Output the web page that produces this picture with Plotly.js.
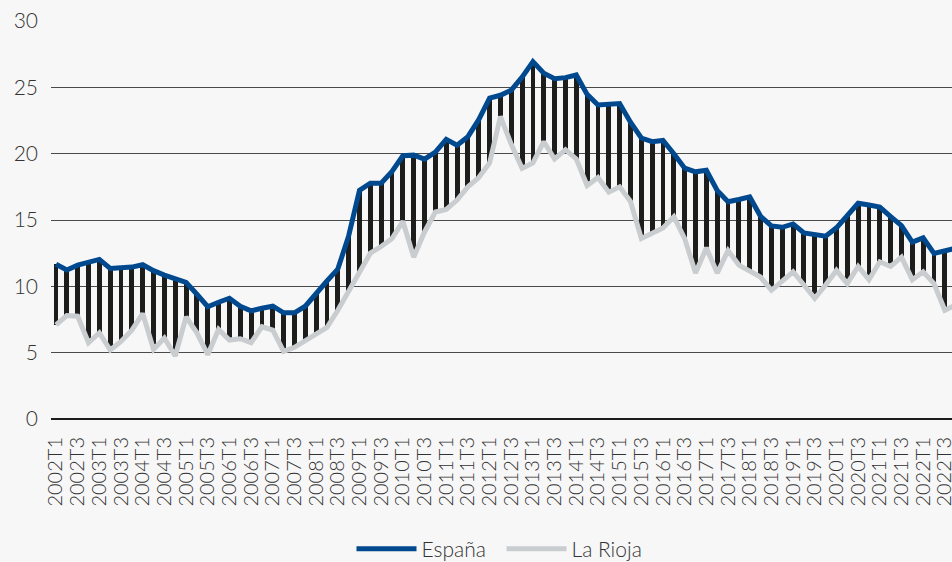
<!DOCTYPE html>
<html>
<head>
<meta charset="utf-8">
<script src="https://cdn.plot.ly/plotly-3.0.1.min.js"></script>
<style>
html,body{margin:0;padding:0;background:#f7f7f7;overflow:hidden;}
#chart{width:952px;height:562px;}
</style>
</head>
<body>
<div id="chart"></div>
<script>
// Quarters 2002T1 .. 2022T4
const years = [];
for (let y = 2002; y <= 2022; y++) years.push(y);
const quarters = [];
years.forEach(y => { ['T1','T2','T3','T4'].forEach(q => quarters.push(y + q)); });

const espana = [
  11.66, 11.23, 11.60, 11.80,
  12.03, 11.35, 11.40, 11.45,
  11.63, 11.18, 10.85, 10.60,
  10.30, 9.40, 8.46, 8.80,
  9.10, 8.50, 8.15, 8.35,
  8.50, 8.00, 8.00, 8.50,
  9.50, 10.40, 11.30, 13.80,
  17.24, 17.77, 17.77, 18.66,
  19.84, 19.89, 19.59, 20.11,
  21.08, 20.64, 21.28, 22.56,
  24.19, 24.40, 24.79, 25.77,
  26.94, 26.06, 25.65, 25.73,
  25.93, 24.47, 23.67, 23.70,
  23.78, 22.37, 21.18, 20.90,
  21.00, 20.00, 18.91, 18.63,
  18.75, 17.22, 16.38, 16.55,
  16.74, 15.28, 14.55, 14.45,
  14.70, 14.02, 13.92, 13.78,
  14.41, 15.33, 16.26, 16.13,
  15.98, 15.26, 14.57, 13.33,
  13.65, 12.48, 12.67, 12.87
];

const laRioja = [
  7.10, 7.80, 7.75, 5.75,
  6.50, 5.20, 5.85, 6.70,
  7.95, 5.25, 6.10, 4.75,
  7.70, 6.50, 4.85, 6.75,
  5.95, 6.05, 5.75, 6.95,
  6.70, 5.10, 5.40, 5.90,
  6.50, 6.90, 8.20, 9.60,
  11.00, 12.50, 13.00, 13.60,
  14.90, 12.20, 14.10, 15.60,
  15.80, 16.50, 17.50, 18.20,
  19.30, 22.80, 20.70, 18.90,
  19.30, 20.90, 19.60, 20.30,
  19.60, 17.60, 18.20, 17.10,
  17.50, 16.40, 13.60, 14.00,
  14.40, 15.25, 13.60, 11.00,
  12.90, 11.00, 12.70, 11.60,
  11.10, 10.70, 9.70, 10.35,
  11.10, 10.10, 9.10, 10.10,
  11.20, 10.20, 11.50, 10.50,
  11.85, 11.50, 12.20, 10.50,
  11.10, 10.20, 8.20, 8.60
];

const tickLabels = quarters.filter(q => q.endsWith('T1') || q.endsWith('T3'));
const gap = espana.map((v, i) => v - laRioja[i]);

const FONT = 'Lato, "Open Sans", sans-serif';

const traces = [
  {
    type: 'bar', x: quarters, y: gap, base: laRioja,
    width: 0.45, marker: {color: '#1d1d1b', line: {width: 0}},
    showlegend: false, hoverinfo: 'skip'
  },
  {
    type: 'scatter', mode: 'lines', name: 'La Rioja', x: quarters, y: laRioja,
    line: {color: '#c9cdcf', width: 5}
  },
  {
    type: 'scatter', mode: 'lines', name: 'España', x: quarters, y: espana,
    line: {color: '#00498f', width: 5}
  }
];

const layout = {
  width: 952, height: 562,
  margin: {l: 51, r: 0, t: 21, b: 143, autoexpand: false},
  paper_bgcolor: '#f7f7f7', plot_bgcolor: '#f7f7f7',
  font: {family: FONT, color: '#333333', weight: 300},
  showlegend: true,
  legend: {
    orientation: 'h', x: 0.5, xanchor: 'center', y: -0.327, yanchor: 'middle',
    traceorder: 'reversed', itemwidth: 60,
    entrywidth: 75, entrywidthmode: 'pixels',
    font: {size: 21, color: '#333333', family: FONT, weight: 300},
    bgcolor: 'rgba(0,0,0,0)'
  },
  bargap: 0,
  xaxis: {
    type: 'category', range: [-0.46, 82.66], automargin: false,
    tickmode: 'array', tickvals: tickLabels, ticktext: tickLabels,
    tickangle: -90, ticks: '', showgrid: false, zeroline: false, showline: false,
    tickfont: {size: 20, color: '#333333', family: FONT, weight: 300},
    ticklabelstandoff: 13, fixedrange: true
  },
  yaxis: {
    range: [0, 30], tickvals: [0, 5, 10, 15, 20, 25, 30], automargin: false,
    showgrid: true, gridcolor: '#4a4a4a', gridwidth: 1,
    zeroline: true, zerolinecolor: '#1d1d1b', zerolinewidth: 2.5,
    ticks: '', showline: false,
    tickfont: {size: 21, color: '#333333', family: FONT, weight: 300},
    ticklabelstandoff: 12, fixedrange: true
  }
};

Plotly.newPlot('chart', traces, layout, {displayModeBar: false, staticPlot: true});
</script>
</body>
</html>
